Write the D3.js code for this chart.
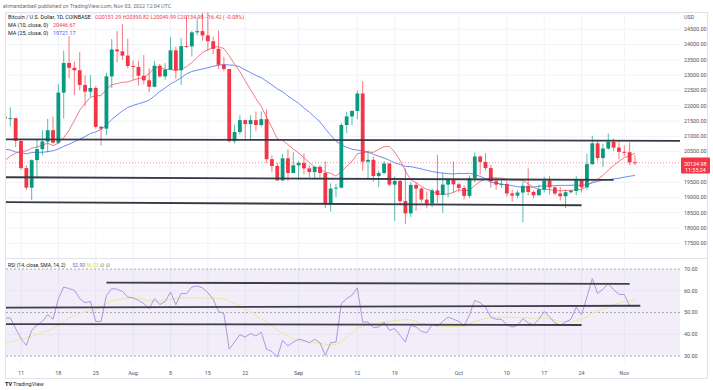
<!DOCTYPE html>
<html><head><meta charset="utf-8">
<script src="https://cdn.jsdelivr.net/npm/d3@7"></script>
<style>body{margin:0;background:#fff}svg{display:block;font-family:Roboto,"Liberation Sans",sans-serif}</style>
</head><body><svg id="c" width="713" height="390"></svg>
<script>
// ---------- DATA (daily candles 2022-07-08 .. 2022-11-03, COINBASE BTC/USD) ----------
const firstDay = "2022-07-08";
const lastDay = "2022-11-03";
const openP = [21640,21585,21592,20850,19960,19320,20220,20580,20830,21200,20790,22430,23400,23240,23160,22680,22460,22580,21310,21250,22960,23840,23780,23640,
23300,23270,22980,22830,22620,23310,22960,23180,23810,23160,23950,23940,24400,24440,24300,24110,23860,23340,23200,20840,21140,21530,21400,21530,21370,21560,20250,20030,19560,20280,19800,
20050,20130,19950,19830,20000,19800,18790,19290,19320,21370,21650,21830,22400,20170,20230,19700,19800,20110,19420,19540,18880,18480,19410,19290,18930,18800,19230,19080,19420,19590,
19430,19310,19050,19630,20340,20160,19960,19530,19420,19440,19130,19060,19160,19380,19180,19070,19260,19550,19330,19130,19040,19170,19210,19570,19330,20090,20770,20290,20600,20820,20630,
20490,20480,20151.29];
const highP = [22527,21950,21600,20870,20050,20250,20880,21200,21570,21650,22700,23800,24280,23440,23750,22990,23000,22640,21350,23080,24180,24440,24660,24190,
23480,23470,23660,23230,23460,23360,23390,24240,23930,24220,24920,24450,24880,25050,25200,24260,24460,23600,23200,21380,21690,21530,21690,21810,21810,21880,20370,20130,20420,20570,20480,
20200,20440,20050,20020,20060,20180,19460,19450,21440,21800,21850,22500,22800,20540,20340,19880,20190,20110,19690,19630,19950,19500,19500,19320,19200,19300,20390,19800,19640,20180,
19480,19400,19720,20470,20370,20450,20060,19620,19560,19530,19260,19230,19520,19950,19230,19420,19680,19710,19360,19350,19250,19260,19700,19600,20420,21020,20870,20750,21090,20930,20830,
20700,20800,20390.82];
const lowP = [21190,21320,20650,19900,19240,18910,19620,20380,20480,20760,20750,21580,22900,22340,22500,22000,22280,21250,20700,21040,22580,23420,23500,23230,
22850,22660,22700,22440,22600,22920,22850,23160,22880,22680,23880,23610,24300,24130,23800,23680,23200,23130,20800,20770,21060,20900,20900,21170,21320,20130,19820,19540,19540,19540,19790,
19570,19760,19650,19600,19640,18650,18540,19010,19300,21100,21370,21560,19870,19620,19510,19330,19750,19360,18230,18790,18130,18360,18560,18830,18640,18680,18820,18500,19010,19160,
19170,18930,18970,19500,19740,19880,19320,19250,19320,19030,18860,18970,18190,19070,18970,19070,19160,19100,19080,18900,18650,19130,19080,19160,19250,20060,20200,20000,20560,20520,20240,
20350,20060,20049.99];
const closeP = [21585,21592,20850,19960,19320,20220,20580,20830,21200,20790,22430,23400,23240,23160,22680,22460,22580,21310,21250,22960,23840,23780,23640,23300,
23270,22980,22830,22620,23310,22960,23180,23810,23160,23950,23940,24400,24440,24300,24110,23860,23340,23200,20840,21140,21530,21400,21530,21370,21560,20250,20030,19560,20280,19800,20050,
20130,19950,19830,20000,19800,18790,19290,19320,21370,21650,21830,22400,20170,20230,19700,19800,20110,19420,19540,18880,18480,19410,19290,18930,18800,19230,19080,19420,19590,19430,
19310,19050,19630,20340,20160,19960,19530,19420,19440,19130,19060,19160,19380,19180,19070,19260,19550,19330,19130,19040,19170,19210,19570,19330,20090,20770,20290,20600,20820,20630,20490,
20480,20150,20134.98];
const ma10 = [20206,20355,20447,20514,20521,20612,20647,20711,20776,20693,20777,20958,21197,21517,21853,22077,22277,22325,22330,22547,22688,22726,22766,22780,
22839,22891,22916,23047,23253,23253,23187,23190,23142,23207,23274,23416,23577,23745,23825,23915,23931,23870,23638,23357,23116,22816,22525,22232,21977,21616,21285,20921,20865,20731,20583,
20456,20298,20144,19988,19943,19819,19792,19696,19853,20013,20183,20428,20462,20485,20475,20576,20658,20668,20485,20208,19873,19574,19486,19356,19266,19209,19106,19106,19111,19166,
19249,19213,19247,19388,19524,19597,19642,19642,19627,19597,19572,19583,19558,19442,19333,19263,19265,19256,19225,19216,19227,19232,19251,19266,19368,19519,19593,19720,19889,20048,20180,
20307,20365,20446.67];
const ma25 = [20575,20554,20485,20468,20423,20472,20473,20478,20497,20530,20584,20670,20740,20826,20904,20991,21090,21145,21224,21372,21553,21695,21833,21943,
22009,22065,22114,22185,22319,22465,22583,22712,22806,22916,23042,23120,23162,23204,23242,23290,23325,23350,23331,23326,23269,23172,23082,22991,22921,22800,22682,22552,22458,22318,22201,
22079,21925,21792,21634,21468,21244,21038,20838,20729,20640,20580,20548,20521,20485,20412,20348,20291,20213,20132,20077,20015,20009,19970,19935,19885,19849,19814,19798,19781,19766,
19787,19778,19790,19749,19689,19614,19500,19470,19438,19415,19386,19348,19346,19332,19339,19370,19376,19378,19386,19395,19393,19398,19404,19394,19420,19478,19528,19567,19586,19605,19626,
19664,19693,19721.17];
const rsi = [47.5,47.5,42.6,38.0,34.9,41.8,44.1,45.9,49.0,46.9,56.4,61.7,61.0,60.2,56.4,54.5,55.1,45.9,45.9,57.9,61.0,60.7,59.7,57.1,
56.7,55.6,54.1,51.8,56.4,53.6,55.1,59.4,53.6,58.7,58.7,61.7,62.2,61.3,59.1,56.1,50.5,49.5,33.1,36.4,39.8,38.7,40.3,39.2,41.0,33.1,32.1,29.5,37.2,34.6,36.4,
37.7,37.2,36.1,37.7,36.1,30.3,36.1,36.4,54.1,56.4,57.9,61.3,45.6,45.6,43.0,43.3,45.6,41.8,42.6,39.5,36.4,44.1,43.3,41.3,40.7,44.4,43.8,45.9,47.9,46.9,
45.9,43.8,49.0,55.6,54.5,52.5,47.9,46.9,46.9,44.4,43.3,44.1,47.2,45.2,44.4,46.9,50.5,47.9,45.3,44.1,45.6,46.9,52.5,49.0,57.1,65.6,58.7,60.7,63.3,60.5,58.4,
58.2,53.2,52.9];
const rsiSma = [36.2,36.5,37.0,37.8,38.5,39.0,39.8,40.8,41.5,42.6,44.4,46.0,47.5,48.6,49.5,50.3,50.9,51.6,52.6,54.1,55.3,55.8,56.3,56.7,
56.8,56.5,56.1,55.4,55.1,55.2,55.5,56.0,56.5,56.7,56.8,56.8,56.8,56.7,56.6,56.6,56.5,56.3,55.3,54.1,52.9,51.4,50.2,48.6,47.0,45.8,44.0,42.0,40.4,39.2,37.7,
37.0,36.7,36.4,36.1,35.8,35.4,35.1,35.3,36.6,38.6,40.8,42.7,43.8,44.5,44.9,45.3,45.6,45.9,46.2,46.5,46.8,46.6,45.8,44.9,44.6,44.2,43.9,43.7,43.6,43.6,
43.7,43.8,44.8,45.9,46.6,47.2,47.6,47.9,47.9,47.9,47.8,47.7,47.5,47.5,47.5,47.5,47.5,47.1,46.6,45.9,45.9,45.9,46.3,46.9,48.0,49.6,50.8,51.6,52.3,53.7,54.4,
55.0,55.5,56.03];
const priceTicks = [24500,24000,23500,23000,22500,22000,21500,21000,20500,19500,19000,18500,18000,17500];
const gridPrices = [17000,17500,18000,18500,19000,19500,20000,20500,21000,21500,22000,22500,23000,23500,24000,24500,25000];
const rsiTicks = [70,60,50,40,30];
const timeTicks = [["2022-07-11","11"],["2022-07-18","18"],["2022-07-25","25"],["2022-08-01","Aug"],["2022-08-08","8"],["2022-08-15","15"],["2022-08-22","22"],
["2022-09-01","Sep"],["2022-09-12","12"],["2022-09-19","19"],["2022-10-01","Oct"],["2022-10-10","10"],["2022-10-17","17"],["2022-10-24","24"],["2022-11-01","Nov"]];
// user-drawn trend lines: [start date, start value, end date, end value]
const priceDrawings = [["2022-07-07",20900,"2022-11-12",20853],["2022-07-07",19661,"2022-10-30",19572],["2022-07-07",18846,"2022-10-24",18745]];
const rsiDrawings = [["2022-07-27",63.7,"2022-11-02",63.2],["2022-07-07",52.2,"2022-11-04",53.1],["2022-07-07",44.7,"2022-10-24",44.25]];
const lastPrice = 20134.98, countdown = "11:55:24";

// ---------- CHART ----------
const svg = d3.select("#c");
const P = d3.utcParse("%Y-%m-%d");
const dates = d3.utcDay.range(P(firstDay), d3.utcDay.offset(P(lastDay), 1));
const L = 6, R = 680, mainTop = 12.5, mainBot = 258, rsiTop = 259, rsiBot = 363;
const x = d3.scaleUtc().domain([P("2022-07-11"), P("2022-11-01")]).range([21, 624.3]);
const y = d3.scaleLinear().domain([17500, 24500]).range([243.3, 29.3]);
const yr = d3.scaleLinear().domain([30, 70]).range([356, 269]);
const UP = "#089981", DN = "#f23645";
const font = 5.4;

svg.append("rect").attr("width",713).attr("height",390).attr("fill","#fff");
const defs = svg.append("defs");
defs.append("clipPath").attr("id","cm").append("rect").attr("x",L).attr("y",mainTop).attr("width",R-L).attr("height",mainBot-mainTop);
defs.append("clipPath").attr("id","cr").append("rect").attr("x",L).attr("y",rsiTop).attr("width",R-L).attr("height",rsiBot-rsiTop);

// grid
const grid = svg.append("g");
grid.selectAll(".vg").data(timeTicks).join("line").attr("x1",d=>x(P(d[0]))).attr("x2",d=>x(P(d[0])))
  .attr("y1",mainTop).attr("y2",rsiBot).attr("stroke","#f0f3fa").attr("stroke-width",1);
grid.append("g").attr("clip-path","url(#cm)").selectAll("line").data(gridPrices).join("line")
  .attr("x1",L).attr("x2",R).attr("y1",d=>y(d)).attr("y2",d=>y(d)).attr("stroke","#f0f3fa");

// frame
svg.append("rect").attr("x",5.5).attr("y",12.5).attr("width",702).attr("height",366).attr("fill","none").attr("stroke","#e0e3eb");
svg.append("line").attr("x1",5.5).attr("x2",707.5).attr("y1",258.5).attr("y2",258.5).attr("stroke","#e0e3eb");

// ---- main pane
const gm = svg.append("g").attr("clip-path","url(#cm)");
gm.append("line").attr("x1",L).attr("x2",R).attr("y1",y(lastPrice)).attr("y2",y(lastPrice))
  .attr("stroke",DN).attr("stroke-opacity",0.55).attr("stroke-dasharray","1,2");
const lineP = (arr) => d3.line().x((d,i)=>x(dates[i])).y(d=>y(d))(arr);
gm.append("path").attr("d",lineP(ma25)).attr("fill","none").attr("stroke","#5b7ff0").attr("stroke-width",0.9);
gm.append("path").attr("d",lineP(ma10)).attr("fill","none").attr("stroke","#f26b78").attr("stroke-width",0.9);
const idx = d3.range(dates.length);
const cg = gm.append("g");
cg.selectAll(".w").data(idx).join("line")
  .attr("x1",i=>x(dates[i])).attr("x2",i=>x(dates[i]))
  .attr("y1",i=>y(highP[i])).attr("y2",i=>y(lowP[i]))
  .attr("stroke",i=>closeP[i]>=openP[i]?UP:DN).attr("stroke-width",0.9).attr("stroke-opacity",0.75);
cg.selectAll(".b").data(idx).join("rect")
  .attr("x",i=>x(dates[i])-1.9).attr("width",3.8)
  .attr("y",i=>Math.min(y(openP[i]),y(closeP[i])))
  .attr("height",i=>Math.max(0.9,Math.abs(y(openP[i])-y(closeP[i]))))
  .attr("fill",i=>closeP[i]>=openP[i]?UP:DN);
gm.selectAll(".pd").data(priceDrawings).join("line")
  .attr("x1",d=>x(P(d[0]))).attr("y1",d=>y(d[1])).attr("x2",d=>x(P(d[2]))).attr("y2",d=>y(d[3]))
  .attr("stroke","#363a45").attr("stroke-width",1.8);

// price axis labels
const ax = svg.append("g").attr("font-size",font).attr("fill","#50535e");
ax.append("text").attr("x",684).attr("y",17.5).attr("dy","0.35em").text("USD");
ax.selectAll(".pt").data(priceTicks).join("text").attr("x",684).attr("y",d=>y(d)).attr("dy","0.35em").text(d=>d3.format(".2f")(d));
svg.append("rect").attr("x",681).attr("y",157.5).attr("width",29).attr("height",16).attr("fill",DN).attr("rx",1);
svg.append("text").attr("x",684).attr("y",164.3).attr("dy","0.35em").attr("font-size",font).attr("fill","#fff").text(d3.format(".2f")(lastPrice));
svg.append("text").attr("x",685).attr("y",170.2).attr("dy","0.35em").attr("font-size",font).attr("fill","#fff").text(countdown);

// ---- RSI pane
const gr = svg.append("g").attr("clip-path","url(#cr)");
gr.append("rect").attr("x",L).attr("width",R-L).attr("y",yr(70)).attr("height",yr(30)-yr(70)).attr("fill","#7e57c2").attr("fill-opacity",0.1);
gr.selectAll(".rg").data([60,40]).join("line").attr("x1",L).attr("x2",R).attr("y1",d=>yr(d)).attr("y2",d=>yr(d)).attr("stroke","#e8e4f3");
gr.selectAll(".rb").data([70,50,30]).join("line").attr("x1",L).attr("x2",R).attr("y1",d=>yr(d)).attr("y2",d=>yr(d))
  .attr("stroke","#9598a1").attr("stroke-width",0.8).attr("stroke-dasharray","2,2");
const lineR = (arr) => d3.line().x((d,i)=>x(dates[i])).y(d=>yr(d))(arr);
gr.append("path").attr("d",lineR(rsiSma)).attr("fill","none").attr("stroke","#e9ea9c").attr("stroke-width",1);
gr.append("path").attr("d",lineR(rsi)).attr("fill","none").attr("stroke","#a58fd6").attr("stroke-width",0.9);
gr.selectAll(".rd").data(rsiDrawings).join("line")
  .attr("x1",d=>x(P(d[0]))).attr("y1",d=>yr(d[1])).attr("x2",d=>x(P(d[2]))).attr("y2",d=>yr(d[3]))
  .attr("stroke","#3f3d4d").attr("stroke-width",1.8);
ax.selectAll(".rt").data(rsiTicks).join("text").attr("x",684).attr("y",d=>yr(d)).attr("dy","0.35em").text(d=>d3.format(".2f")(d));

// time axis
svg.append("g").attr("font-size",font).attr("fill","#50535e").attr("text-anchor","middle")
  .selectAll("text").data(timeTicks).join("text").attr("x",d=>x(P(d[0]))).attr("y",372.7).attr("dy","0.35em").text(d=>d[1]);

// header & legends
svg.append("text").attr("x",3).attr("y",6).attr("dy","0.35em").attr("font-size",font).attr("fill","#6a6d78")
  .text("elimandanbell published on TradingView.com, Nov 03, 2022 12:04 UTC");
const lg = svg.append("g").attr("font-size",font);
const l1 = lg.append("text").attr("x",8).attr("y",17.3).attr("dy","0.35em").attr("fill","#131722");
l1.append("tspan").text("Bitcoin / U.S. Dollar, 1D, COINBASE");
const ohlc = [["O",openP[openP.length-1]],["H",highP[highP.length-1]],["L",lowP[lowP.length-1]],["C",lastPrice]];
l1.append("tspan").attr("x",95).attr("fill",DN).text(ohlc.map(d=>d[0]+d3.format(".2f")(d[1])).join(" ")+" \u221216.42 (\u22120.08%)");
const l2 = lg.append("text").attr("x",8).attr("y",25.3).attr("dy","0.35em").attr("fill","#131722");
l2.append("tspan").text("MA (10, close, 0)");
l2.append("tspan").attr("x",53).attr("fill",DN).text(d3.format(".2f")(ma10[ma10.length-1]));
const l3 = lg.append("text").attr("x",8).attr("y",33).attr("dy","0.35em").attr("fill","#131722");
l3.append("tspan").text("MA (25, close, 0)");
l3.append("tspan").attr("x",53).attr("fill","#2962ff").text(d3.format(".2f")(ma25[ma25.length-1]));
const l4 = lg.append("text").attr("x",8).attr("y",264.8).attr("dy","0.35em").attr("fill","#131722").attr("font-size",5.0);
l4.append("tspan").text("RSI (14, close, SMA, 14, 2)");
l4.append("tspan").attr("x",72.5).attr("fill","#7e57c2").text(d3.format(".2f")(rsi[rsi.length-1]));
l4.append("tspan").attr("x",86).attr("fill","#d6d64a").text(d3.format(".2f")(rsiSma[rsiSma.length-1]));
l4.append("tspan").attr("x",100).attr("fill","#50535e").text("\u2205");
l4.append("tspan").attr("x",105.5).attr("fill","#50535e").text("\u2205");

// logo
const lo = svg.append("g").attr("fill","#131722");
lo.append("text").attr("x",5).attr("y",384.5).attr("dy","0.35em").attr("font-size",5.6).attr("font-weight","bold").text("TV");
lo.append("text").attr("x",13).attr("y",384.5).attr("dy","0.35em").attr("font-size",5.6).attr("fill","#2a2e39").text("TradingView");
</script></body></html>
